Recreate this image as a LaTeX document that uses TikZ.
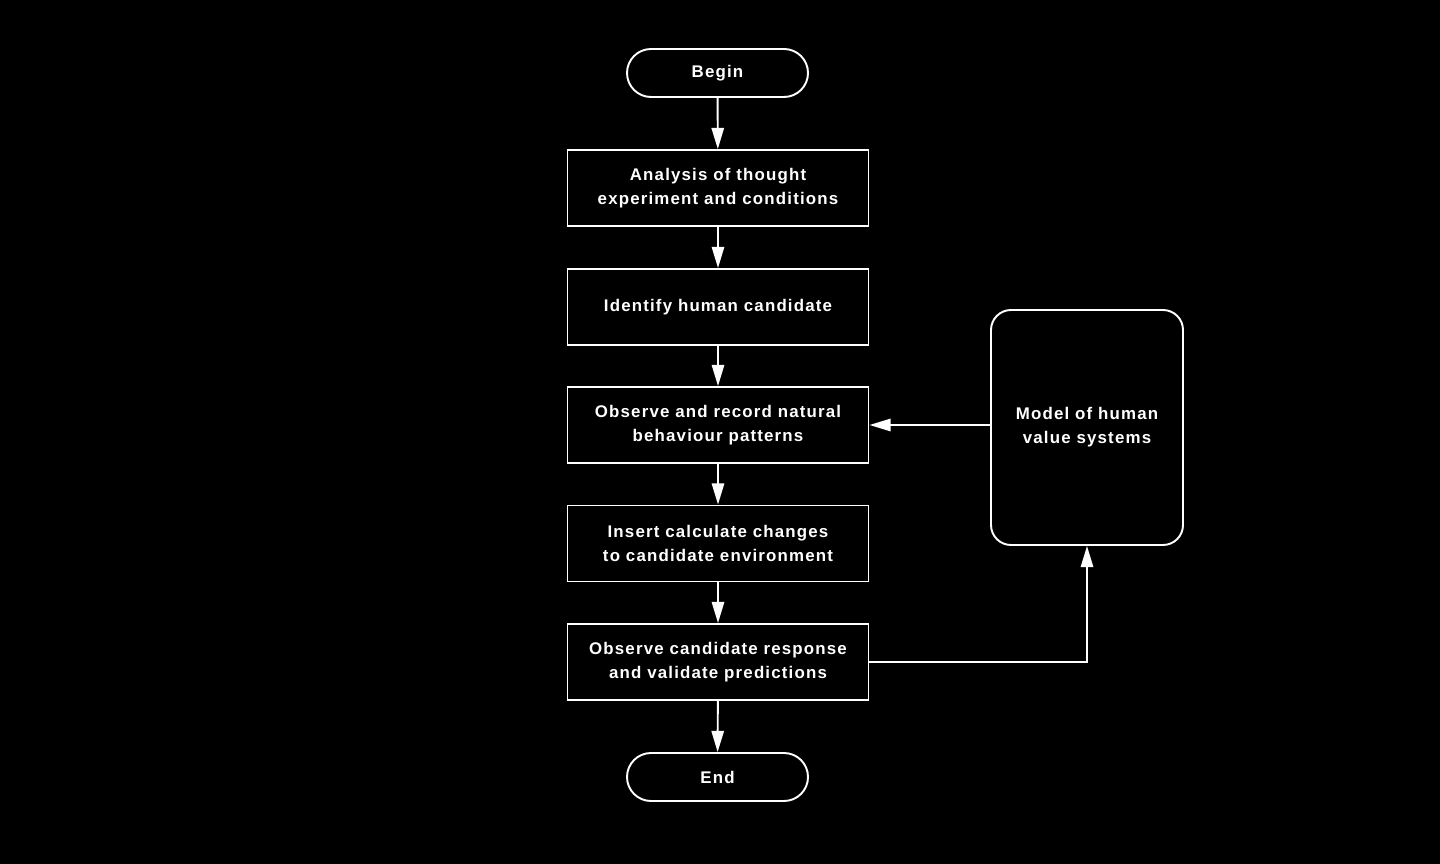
\documentclass[tikz,border=0pt]{standalone}
\usepackage{fontspec}
\setmainfont{Liberation Sans}
\newfontfamily\labelfont[LetterSpace=7]{Liberation Sans}
\usetikzlibrary{arrows.meta}
\begin{document}
\begin{tikzpicture}[x=0.02cm, y=-0.02cm,
    every node/.style={draw=white, line width=1.1pt, text=white, font=\labelfont\bfseries\fontsize{9.6}{13.6}\selectfont, align=center, inner sep=0pt},
    stepbox/.style={rectangle, minimum width=301*0.02cm, minimum height=76*0.02cm},
    terminal/.style={rectangle, rounded corners=24*0.02cm, minimum width=181*0.02cm, minimum height=48*0.02cm},
    flow/.style={draw=white, line width=1.1pt, -{Triangle[length=12pt, width=7pt]}}]
    \fill[black] (0,0) rectangle (1440,864);

    \node[terminal] (begin) at (717.5,73) {Begin};
    \node[stepbox] (analysis) at (718,188) {Analysis of thought\\experiment and conditions};
    \node[stepbox] (identify) at (718,307) {Identify human candidate};
    \node[stepbox] (observe) at (718,425) {Observe and record natural\\behaviour patterns};
    \node[stepbox] (insert) at (718,543.5) {Insert calculate changes\\to candidate environment};
    \node[stepbox] (validate) at (718,662) {Observe candidate response\\and validate predictions};
    \node[terminal] (end) at (717.5,777) {End};

    \node[rectangle, rounded corners=20*0.02cm, minimum width=192*0.02cm, minimum height=235*0.02cm] (model) at (1087,427.5) {Model of human\\value systems};

    % main column
    \draw[flow] (begin) -- (analysis);
    \draw[flow] (analysis) -- (identify);
    \draw[flow] (identify) -- (observe);
    \draw[flow] (observe) -- (insert);
    \draw[flow] (insert) -- (validate);
    \draw[flow] (validate) -- (end);

    % feedback loop
    \draw[flow] (validate.east) -| (model.south);
    \draw[flow] (model.west |- observe.east) -- (observe.east);
\end{tikzpicture}
\end{document}
